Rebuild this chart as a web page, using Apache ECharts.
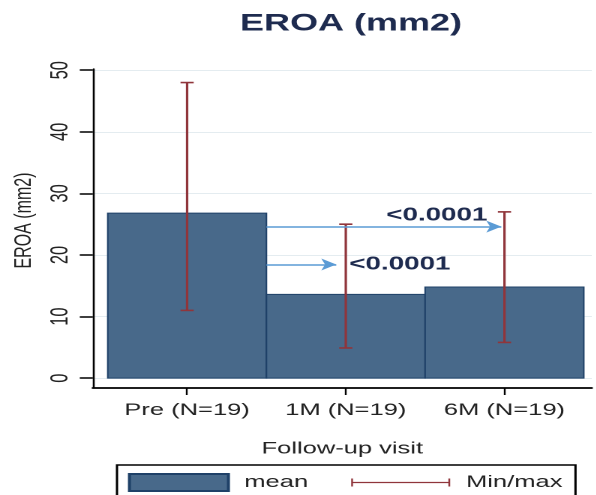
<!DOCTYPE html>
<html>
<head>
<meta charset="utf-8">
<script src="https://cdn.jsdelivr.net/npm/echarts@6/dist/echarts.min.js"></script>
<style>
  html, body { margin: 0; padding: 0; background: #fff; overflow: hidden; }
  #wrap { width: 596px; height: 495px; overflow: hidden; }
  /* the figure is laid out narrow and widened to its final aspect */
  #chart { width: 397.333px; height: 495px; transform: scaleX(1.5); transform-origin: 0 0; }
</style>
</head>
<body>
<div id="wrap"><div id="chart"></div></div>
<script>
// Follow-up visits and EROA summary (mm2)
const categories = ['Pre (N=19)', '1M (N=19)', '6M (N=19)'];
const meanValues = [26.8, 13.6, 14.8];
const minValues = [11.0, 4.9, 5.8];
const maxValues = [48.0, 25.0, 27.0];
const yTicks = [0, 10, 20, 30, 40, 50];
const xTicks = [0, 1, 2];

// Paired comparisons against baseline: start (bar edge), end, level, p-value
const comparisonStart = [0.5, 0.5];
const comparisonEnd = [1.98, 0.94];
const comparisonLevel = [24.6, 18.45];
const comparisonText = ['<0.0001', '<0.0001'];

const FONT = "'Liberation Sans', Arial, Helvetica, sans-serif";
const TEXT = '#222222';
const BAR_FILL = '#48698a';
const BAR_EDGE = '#1f4168';
const RANGE_COLOR = '#90353b';
const ARROW_COLOR = '#5b9bd5';
const P_COLOR = '#1e2b4f';

const chart = echarts.init(document.getElementById('chart'), null, { renderer: 'canvas', devicePixelRatio: 2 });

function renderBar(params, api) {
  const x = api.value(0);
  const y = api.value(1);
  const p0 = api.coord([x - 0.5, 0]);
  const p1 = api.coord([x + 0.5, y]);
  return {
    type: 'rect',
    shape: { x: p0[0], y: p1[1], width: p1[0] - p0[0], height: p0[1] - p1[1] },
    style: api.style()
  };
}

function renderRange(params, api) {
  const x = api.value(0);
  const lo = api.coord([x, api.value(1)]);
  const hi = api.coord([x, api.value(2)]);
  const half = 4.4;
  const style = { stroke: RANGE_COLOR, lineWidth: 1.6 };
  return {
    type: 'group',
    children: [
      { type: 'line', shape: { x1: lo[0], y1: lo[1], x2: hi[0], y2: hi[1] }, style },
      { type: 'line', shape: { x1: hi[0] - half, y1: hi[1], x2: hi[0] + half, y2: hi[1] }, style },
      { type: 'line', shape: { x1: lo[0] - half, y1: lo[1], x2: lo[0] + half, y2: lo[1] }, style }
    ]
  };
}

const labelPlacement = [
  { position: 'insideEndTop', distance: [9.3, 1.5] },
  { position: 'end', distance: [8.7, 0] }
];

const comparisonLines = comparisonText.map((txt, i) => [
  {
    coord: [comparisonStart[i], comparisonLevel[i]],
    label: Object.assign({
      show: true,
      formatter: txt,
      fontFamily: FONT,
      fontSize: 18.5,
      fontWeight: 'bold',
      color: P_COLOR
    }, labelPlacement[i])
  },
  { coord: [comparisonEnd[i], comparisonLevel[i]] }
]);

const rangeIcon = 'path://M0,0 L0.01,0 L0,0.01 Z M0,4.5 L1.2,4.5 L1.2,12.5 L0,12.5 Z M0,7.9 L66,7.9 L66,9.1 L0,9.1 Z M64.8,4.5 L66,4.5 L66,12.5 L64.8,12.5 Z M66,17 L65.99,17 L66,16.99 Z';

const option = {
  animation: false,
  backgroundColor: '#ffffff',
  title: {
    text: 'EROA (mm2)',
    left: 160,
    top: 12,
    padding: 0,
    textStyle: { fontFamily: FONT, fontSize: 24, fontWeight: 'bold', color: P_COLOR }
  },
  grid: { left: 60, right: 2.5, top: 69, bottom: 107 },
  xAxis: {
    type: 'value',
    min: -0.594,
    max: 2.55,
    name: 'Follow-up visit',
    nameLocation: 'middle',
    nameGap: 52.5,
    nameTextStyle: { fontFamily: FONT, fontSize: 17, color: TEXT },
    axisLine: { show: true, onZero: false, lineStyle: { color: '#000', width: 1.8 } },
    axisTick: { show: true, customValues: xTicks, length: 7, lineStyle: { color: '#000', width: 1.2 } },
    axisLabel: {
      customValues: xTicks,
      formatter: (v) => categories[Math.round(v)],
      margin: 14,
      fontFamily: FONT, fontSize: 17, color: TEXT
    },
    splitLine: { show: false }
  },
  yAxis: {
    type: 'value',
    min: -1.6,
    max: 50.2,
    name: 'EROA (mm2)',
    nameLocation: 'middle',
    nameGap: 26,
    nameTextStyle: { fontFamily: FONT, fontSize: 16, color: TEXT, padding: [0, 0, 0, 16] },
    axisLine: { show: true, onZero: false, lineStyle: { color: '#000', width: 1.3 } },
    axisTick: { show: true, customValues: yTicks, length: 8.7, lineStyle: { color: '#000', width: 1.5 } },
    axisLabel: {
      customValues: yTicks,
      rotate: 90,
      margin: 13,
      fontFamily: FONT, fontSize: 16.5, color: TEXT
    },
    splitLine: { show: true, lineStyle: { color: '#e4ecf0', width: 1 } }
  },
  legend: {
    left: 78,
    top: 465,
    orient: 'horizontal',
    padding: [8, 8.7, 8, 7.3],
    borderColor: '#000',
    borderWidth: 1.5,
    itemWidth: 66,
    itemHeight: 17,
    itemGap: 28.7,
    selectedMode: false,
    textStyle: { fontFamily: FONT, fontSize: 17, color: TEXT, padding: [0, 0, 0, 5.6] },
    data: [
      { name: 'mean', icon: 'rect' },
      { name: 'Min/max', icon: rangeIcon }
    ]
  },
  series: [
    {
      name: 'mean',
      type: 'custom',
      renderItem: renderBar,
      itemStyle: { color: BAR_FILL, borderColor: BAR_EDGE, borderWidth: 1 },
      data: meanValues.map((v, i) => [i, v]),
      z: 2
    },
    {
      name: 'Min/max',
      type: 'custom',
      renderItem: renderRange,
      itemStyle: { color: RANGE_COLOR, borderWidth: 0 },
      data: minValues.map((v, i) => [i, v, maxValues[i]]),
      z: 4
    },
    {
      name: 'comparisons',
      type: 'line',
      data: [],
      z: 3,
      markLine: {
        silent: true,
        symbol: ['none', 'arrow'],
        symbolSize: [9, 10],
        lineStyle: { color: ARROW_COLOR, width: 1.5, type: 'solid' },
        data: comparisonLines
      }
    }
  ]
};

chart.setOption(option);
</script>
</body>
</html>
